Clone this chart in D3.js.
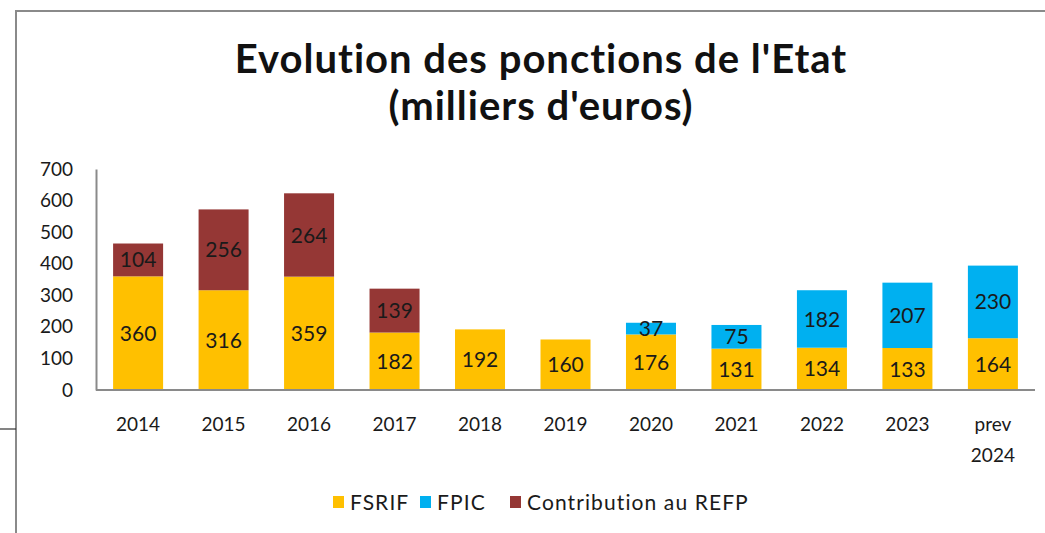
<!DOCTYPE html>
<html lang="fr">
<meta charset="utf-8">

<head>
    <title>Evolution des ponctions de l'Etat</title>
    <script src="https://d3js.org/d3.v7.min.js"></script>
    <style>
        body { margin: 0; background: #fff; }
        svg text { font-family: Lato, "Open Sans", sans-serif; }
    </style>
</head>

<body>
    <div id="plot"></div>
    <script>
        // chart data
        var years = ["2014", "2015", "2016", "2017", "2018", "2019", "2020", "2021", "2022", "2023", "prev 2024"]
        var fsrif = [360, 316, 359, 182, 192, 160, 176, 131, 134, 133, 164]
        var fpic = [0, 0, 0, 0, 0, 0, 37, 75, 182, 207, 230]
        var refp = [104, 256, 264, 139, 0, 0, 0, 0, 0, 0, 0]
        var seriesNames = ["FSRIF", "FPIC", "Contribution au REFP"]
        var colors = ["#FFC000", "#00B0F0", "#953735"]
        var yTicks = [0, 100, 200, 300, 400, 500, 600, 700]

        var W = 1045, H = 533
        var svg = d3.select("#plot").append("svg")
            .attr("width", W)
            .attr("height", H)

        // frame of the pasted picture
        svg.append("path")
            .attr("d", "M16,533 V11 H1045")
            .attr("fill", "none")
            .attr("stroke", "#8a8a8a")
            .attr("stroke-width", 2)
        svg.append("line")
            .attr("x1", 0).attr("x2", 16).attr("y1", 429).attr("y2", 429)
            .attr("stroke", "#333").attr("stroke-width", 1.2)

        // title
        var title = svg.append("text")
            .attr("text-anchor", "middle")
            .attr("font-weight", "bold")
            .attr("font-size", "40px")
            .attr("letter-spacing", "1px")
            .attr("fill", "#111")
        title.append("tspan").attr("x", 541).attr("y", 73).text("Evolution des ponctions de l'Etat")
        title.append("tspan").attr("x", 541).attr("y", 120).text("(milliers d'euros)")

        var plotLeft = 96, plotRight = 1035, plotTop = 169, plotBottom = 390

        var x = d3.scaleBand()
            .domain(years)
            .range([plotLeft, plotRight])
            .paddingInner(0.415)
            .paddingOuter(0.2)
        var y = d3.scaleLinear()
            .domain([0, 700])
            .range([plotBottom, plotTop])

        // stacked data
        var rows = years.map(function (d, i) {
            return { year: d, FSRIF: fsrif[i], FPIC: fpic[i], "Contribution au REFP": refp[i] }
        })
        var stacked = d3.stack().keys(seriesNames)(rows)

        var layers = svg.selectAll(".layer")
            .data(stacked)
            .enter().append("g")
            .attr("class", "layer")
            .attr("fill", function (d, i) { return colors[i] })

        layers.selectAll("rect")
            .data(function (d) { return d })
            .enter().append("rect")
            .attr("x", function (d) { return x(d.data.year) })
            .attr("width", x.bandwidth())
            .attr("y", function (d) { return y(d[1]) })
            .attr("height", function (d) { return y(d[0]) - y(d[1]) })

        // value labels, centred in each segment
        layers.selectAll("text")
            .data(function (d) { return d.filter(function (s) { return s[1] - s[0] > 0 }) })
            .enter().append("text")
            .attr("x", function (d) { return x(d.data.year) + x.bandwidth() / 2 })
            .attr("y", function (d) { return y((d[0] + d[1]) / 2) })
            .attr("dy", "0.36em")
            .attr("text-anchor", "middle")
            .attr("font-size", "21px")
            .attr("fill", "#1a1a1a")
            .text(function (d) { return d[1] - d[0] })

        // Y axis
        var yAxis = svg.append("g")
            .attr("transform", "translate(" + plotLeft + ",0)")
            .call(d3.axisLeft(y).tickValues(yTicks).tickSize(0).tickPadding(23))
        yAxis.attr("font-family", null)
        yAxis.select(".domain").attr("stroke", "#8a8a8a").attr("stroke-width", 2)
        yAxis.selectAll("text").attr("font-size", "19px").attr("fill", "#1a1a1a")

        // X axis
        var xAxis = svg.append("g")
            .attr("transform", "translate(0," + plotBottom + ")")
            .call(d3.axisBottom(x).tickSize(0).tickPadding(0).tickFormat(""))
        xAxis.attr("font-family", null)
        xAxis.select(".domain").attr("d", "M" + plotLeft + ",0H" + plotRight)
            .attr("stroke", "#8a8a8a").attr("stroke-width", 2)
        xAxis.selectAll(".tick text").remove()
        xAxis.selectAll(".tick").each(function (d) {
            var parts = d.split(" ")
            var t = d3.select(this).append("text")
                .attr("text-anchor", "middle")
                .attr("font-size", "19px")
                .attr("fill", "#1a1a1a")
            parts.forEach(function (p, k) {
                t.append("tspan").attr("x", 0).attr("y", 41 + k * 31).text(p)
            })
        })

        // legend
        var legendX = [333, 420, 510]
        var legend = svg.selectAll(".legend")
            .data(seriesNames)
            .enter().append("g")
            .attr("transform", function (d, i) { return "translate(" + legendX[i] + ",502)" })
        legend.append("rect")
            .attr("x", 0).attr("y", -6)
            .attr("width", 11).attr("height", 12)
            .attr("fill", function (d, i) { return colors[i] })
        legend.append("text")
            .attr("x", 17)
            .attr("dy", "0.36em")
            .attr("font-size", "21px")
            .attr("letter-spacing", "1.1px")
            .attr("fill", "#1a1a1a")
            .text(function (d) { return d })
    </script>
</body>

</html>
